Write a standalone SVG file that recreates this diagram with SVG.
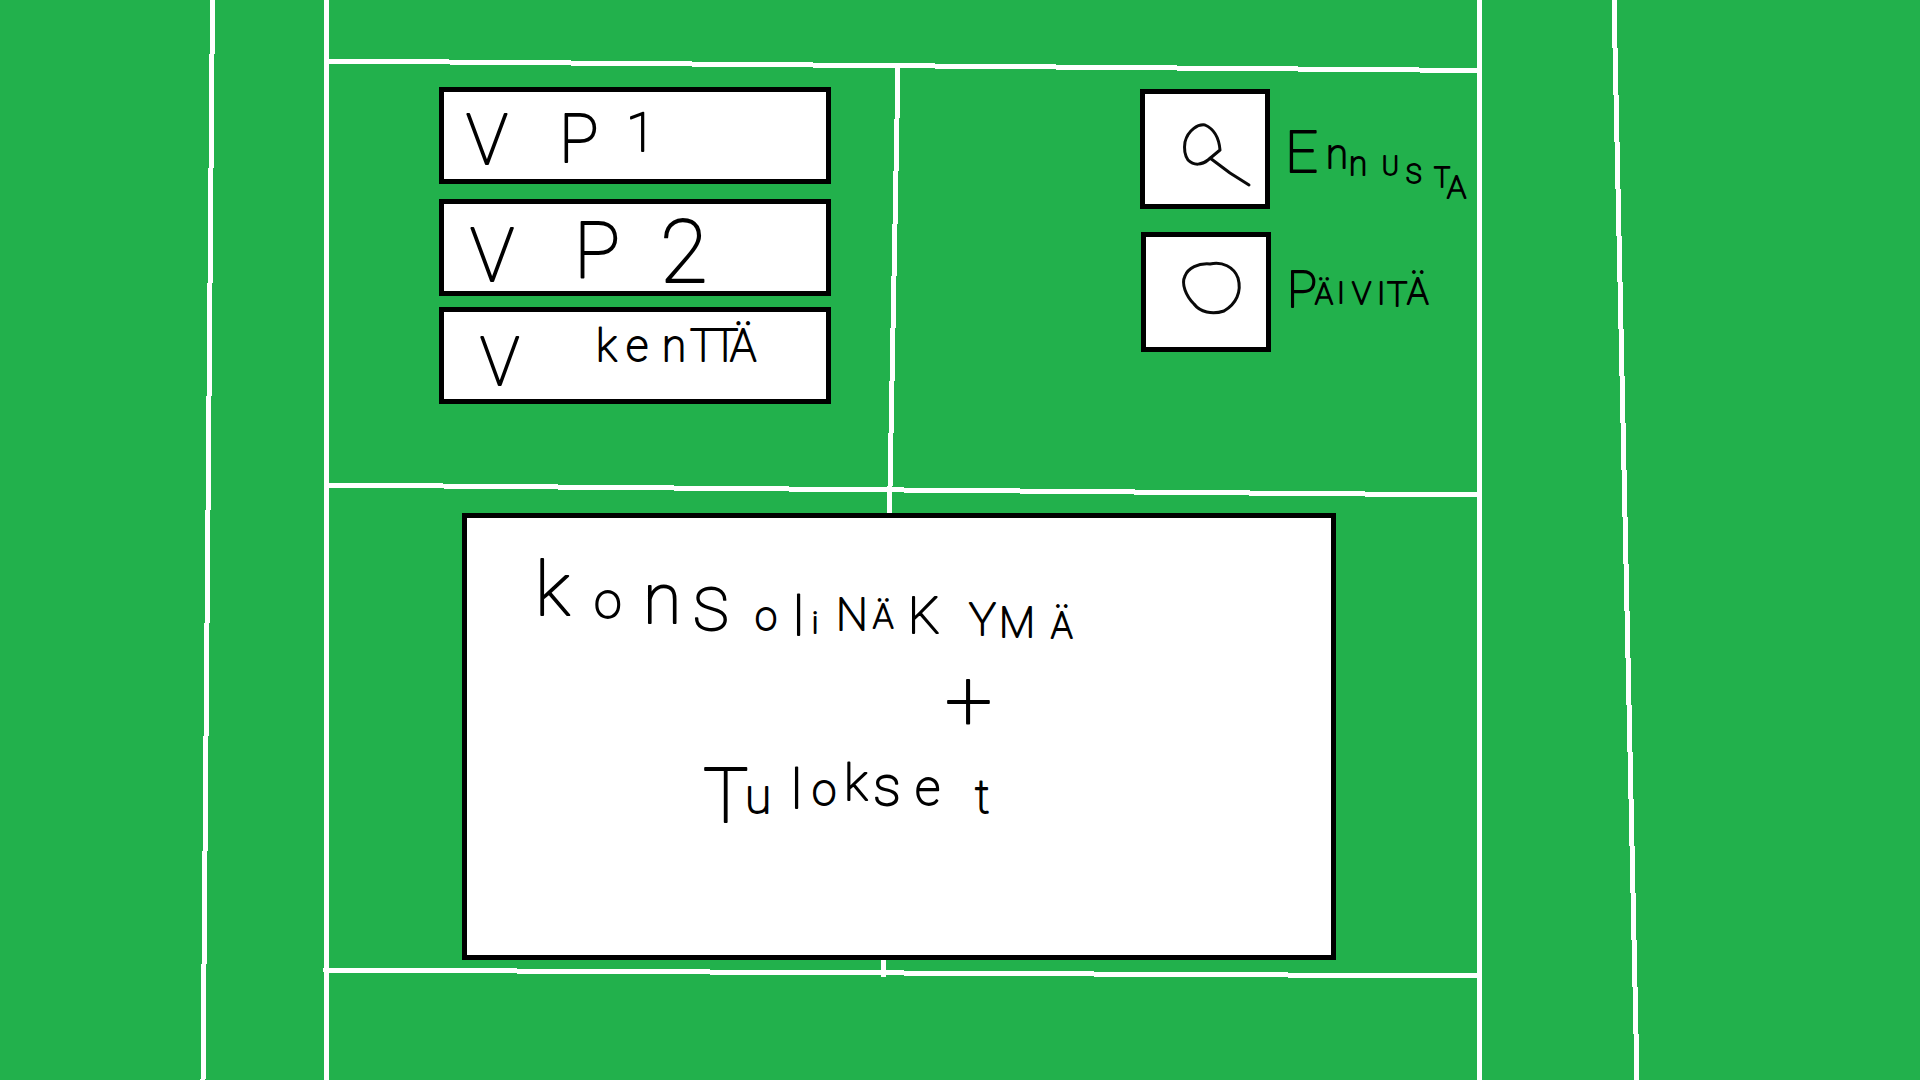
<svg xmlns="http://www.w3.org/2000/svg" width="1920" height="1080" viewBox="0 0 1920 1080">
<style>
.l{fill:none;stroke:#fff;stroke-width:5;shape-rendering:crispEdges}
.b{fill:#fff;stroke:#000;stroke-width:5;shape-rendering:crispEdges}
.i{fill:none;stroke:#0a0a0a;stroke-width:3;stroke-linecap:round;stroke-linejoin:round}
text{font-family:Roboto,"Liberation Sans",sans-serif;font-weight:100;fill:#000;stroke:#000;stroke-width:1.8;stroke-linejoin:round}
</style>
<rect width="1920" height="1080" fill="#22b14c"/>
<g id="connectors">
<path class="l" d="M212.5 0L203 1080"/>
<path class="l" d="M326.5 0L326.5 1080"/>
<path class="l" d="M1479.5 0L1479.5 1080"/>
<path class="l" d="M1614 0L1637 1080"/>
<path class="l" d="M327 61L1479 70.5"/>
<path class="l" d="M327 485L1479 495"/>
<path class="l" d="M323 970L1479 976"/>
<path class="l" d="M898 67L889.5 513"/>
<path class="l" d="M883.5 958L883.5 977"/>
</g>
<g id="vp1">
<rect class="b" x="441.5" y="89.5" width="387" height="92"/>
<text font-size="70" x="466" y="164">V</text>
<text x="559 626" y="162 151"><tspan font-size="66">P</tspan><tspan font-size="54">1</tspan></text>
</g>
<g id="vp2">
<rect class="b" x="441.5" y="201.5" width="387" height="92"/>
<text font-size="74" x="470" y="281">V</text>
<text x="574 660" y="277 282"><tspan font-size="77">P</tspan><tspan font-size="87">2</tspan></text>
</g>
<g id="kentta">
<rect class="b" x="441.5" y="309.5" width="387" height="92"/>
<text font-size="66" x="480" y="385">V</text>
<text font-size="44" x="596 626 662 690 712 730" y="361">kenTTÄ</text>
</g>
<g id="ennusta">
<rect class="b" x="1142.5" y="91.5" width="125" height="115"/>
<path class="i" d="M1185 142C1188 130 1198 124 1205 125C1214 129 1219 138 1220 150L1208 160C1202 165 1194 166 1188 160C1184 154 1184 148 1185 142ZM1210 158L1230 173L1249 185"/>
<text x="1285 1326 1349 1382 1406 1434 1447" y="172 168 175 175 183 187 198"><tspan font-size="58">E</tspan><tspan font-size="40">n</tspan><tspan font-size="33">n</tspan><tspan font-size="25">U</tspan><tspan font-size="26">S</tspan><tspan font-size="27">T</tspan><tspan font-size="32">A</tspan></text>
</g>
<g id="paivita">
<rect class="b" x="1143.5" y="234.5" width="125" height="115"/>
<path class="i" d="M1210 264C1222 261 1234 267 1238 278C1242 292 1236 304 1224 311C1212 315 1200 312 1194 304C1186 296 1181 284 1185 276C1188 268 1198 263 1210 264Z"/>
<text x="1287 1315 1337 1352 1377 1387 1407" y="307 304 303 304 304 306 304"><tspan font-size="50">P</tspan><tspan font-size="30">Ä</tspan><tspan font-size="30">I</tspan><tspan font-size="32">V</tspan><tspan font-size="32">I</tspan><tspan font-size="34">T</tspan><tspan font-size="36">Ä</tspan></text>
</g>
<g id="konsoli">
<rect class="b" x="464.5" y="515.5" width="869" height="442"/>
<text x="535 594 643 693 755 793 812 836 873 908 969 999 1051" y="615 618 623 630 630 635 633 630 628 633 635 637 638"><tspan font-size="74">k</tspan><tspan font-size="50">o</tspan><tspan font-size="70">n</tspan><tspan font-size="60">S</tspan><tspan font-size="40">o</tspan><tspan font-size="54">l</tspan><tspan font-size="30">i</tspan><tspan font-size="45">N</tspan><tspan font-size="34">Ä</tspan><tspan font-size="50">K</tspan><tspan font-size="45">Y</tspan><tspan font-size="42">M</tspan><tspan font-size="36">Ä</tspan></text>
<text font-size="84" x="945" y="730">+</text>
<text x="703 745 791 812 844 873 915 975" y="822 813 808 805 800 805 805 813"><tspan font-size="76">T</tspan><tspan font-size="48">u</tspan><tspan font-size="54">l</tspan><tspan font-size="44">o</tspan><tspan font-size="50">k</tspan><tspan font-size="56">s</tspan><tspan font-size="50">e</tspan><tspan font-size="46">t</tspan></text>
</g>
</svg>
